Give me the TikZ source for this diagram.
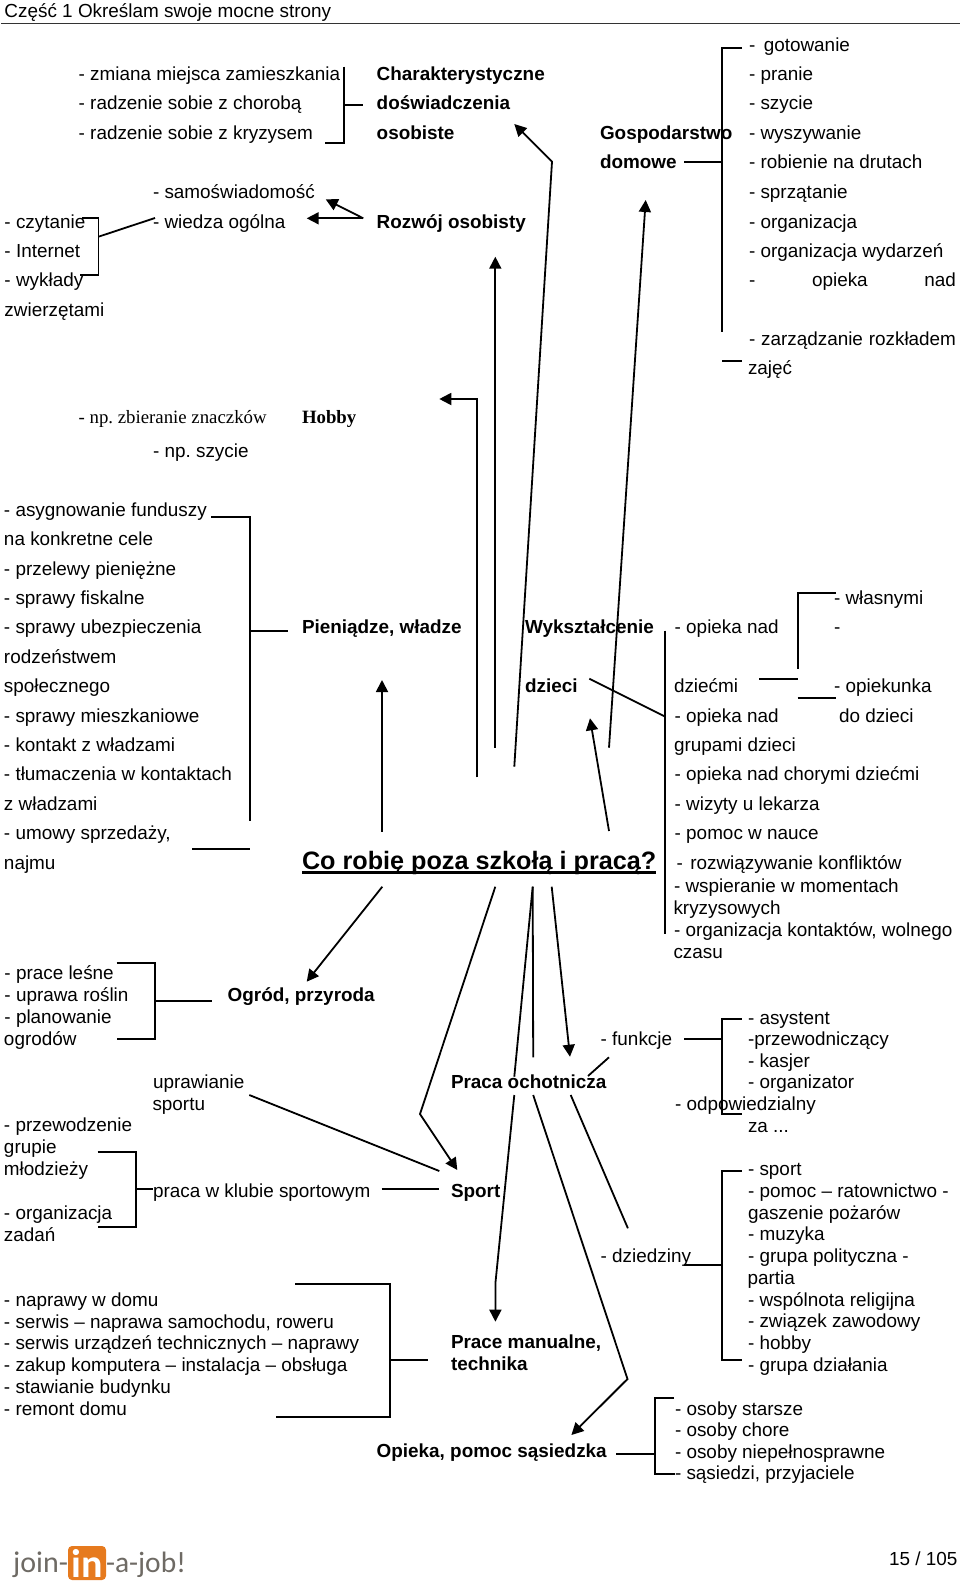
\documentclass[tikz,border=0pt]{standalone}
\usepackage{fontspec}
\setmainfont{Liberation Sans}
\newfontfamily\serifpart{Liberation Serif}
\newfontfamily\logofont{Carlito}
\usepackage{xcolor}
\definecolor{logoorange}{HTML}{E67A1E}
\definecolor{logogray}{HTML}{6E6A64}
\definecolor{rulegray}{HTML}{333333}
\usetikzlibrary{arrows.meta}
\frenchspacing
\tikzset{
    txt/.style={anchor=base west, inner sep=0pt, outer sep=0pt, font=\fontsize{18.9}{22}\selectfont},
    head/.style={txt, font=\fontsize{18.9}{22}\selectfont\bfseries},
    serif/.style={txt, font=\fontsize{18.8}{22}\selectfont\serifpart},
    conn/.style={line width=1.8pt, black},
    arr/.style={conn, -{Triangle[length=12pt,width=12pt]}},
}

\begin{document}
\begin{tikzpicture}[x=1pt, y=-1pt]
        \useasboundingbox (0,0) rectangle (960,1592);
        \node[txt] (title) at (4.5,18) {Część 1 Określam swoje mocne strony};
        \coordinate (ruleL) at (1,24);
        \coordinate (ruleR) at (960,24);
        \draw[line width=1pt, rulegray] (ruleL) -- (ruleR);

        % top left
        \node[txt] (zmiana) at (78.7,80.7) {- zmiana miejsca zamieszkania};
        \node[txt] (choroba) at (78.7,110) {- radzenie sobie z chorobą};
        \node[txt] (kryzys) at (78.7,139.7) {- radzenie sobie z kryzysem};
        \node[head] (charA) at (376.7,80.7) {Charakterystyczne};
        \node[head] (charB) at (376.7,110) {doświadczenia};
        \node[head] (charC) at (376.7,139.7) {osobiste};
        \node[txt] (samo) at (153,198.5) {- samoświadomość};
        \node[txt] (wiedza) at (153,228) {- wiedza ogólna};
        \node[head] (rozwoj) at (376.7,228) {Rozwój osobisty};
        \node[txt] (czytanie) at (4.5,228) {- czytanie};
        \node[txt] (internet) at (4.5,257.4) {- Internet};
        \node[txt] (wyklady) at (4.5,286.7) {- wykłady};
        \node[txt] (zwierz) at (4.5,316) {zwierzętami};
        \node[serif] (znaczki) at (78.7,423.3) {- np. zbieranie znaczków};
        \node[serif, font=\fontsize{18.8}{22}\selectfont\serifpart\bfseries] (hobby) at (302,423.3) {Hobby};
        \node[txt] (npszycie) at (153,457.3) {- np. szycie};

        % household
        \node[head] (gospA) at (600,139.7) {Gospodarstwo};
        \node[head] (gospB) at (600,168.8) {domowe};
        \node[txt] (gotow) at (749,51.7) {-\hspace{0.45em}gotowanie};
        \node[txt] (pranie) at (749,80.7) {- pranie};
        \node[txt] (szycie) at (749,110) {- szycie};
        \node[txt] (wyszyw) at (749,139.7) {- wyszywanie};
        \node[txt] (druty) at (749,168.8) {- robienie na drutach};
        \node[txt] (sprzat) at (749,198.3) {- sprzątanie};
        \node[txt] (orgA) at (749,228) {- organizacja};
        \node[txt] (orgB) at (749,257.4) {- organizacja wydarzeń};
        \node[txt] (opiekaZw) at (749,286.7) {\makebox[207pt][s]{- opieka nad}};
        \node[txt] (zarzad) at (749,345) {\makebox[207pt][s]{- zarządzanie rozkładem}};
        \node[txt] (zajec) at (748,374.5) {zajęć};

        % money
        \node[txt] (fundA) at (4,516) {- asygnowanie funduszy};
        \node[txt] (fundB) at (4,545.3) {na konkretne cele};
        \node[txt] (przelew) at (4,575) {- przelewy pieniężne};
        \node[txt] (fiskal) at (4,604) {- sprawy fiskalne};
        \node[txt] (ubezp) at (4,633.3) {- sprawy ubezpieczenia};
        \node[txt] (rodz) at (4,663) {rodzeństwem};
        \node[txt] (spolecz) at (4,692.3) {społecznego};
        \node[txt] (mieszk) at (4,722) {- sprawy mieszkaniowe};
        \node[txt] (kontakt) at (4,751) {- kontakt z władzami};
        \node[txt] (tlumA) at (4,780.7) {- tłumaczenia w kontaktach};
        \node[txt] (tlumB) at (4,810) {z władzami};
        \node[txt] (umowyA) at (4,839.7) {- umowy sprzedaży,};
        \node[txt] (umowyB) at (4,869) {najmu};
        \node[head] (pieniadze) at (302,633.3) {Pieniądze, władze};

        % centre
        \node[txt, font=\fontsize{25.2}{30}\selectfont\bfseries] (center) at (302,869)
            {\rlap{\rule[-4.8pt]{353.7pt}{2.4pt}}Co robię poza szkołą i pracą?};

        % education
        \node[head] (wyksztA) at (525,633.3) {Wykształcenie};
        \node[head] (wyksztB) at (525,692.3) {dzieci};
        \node[txt] (opiekaA) at (674.7,633.3) {- opieka nad};
        \node[txt] (opiekaB) at (674,692.3) {dziećmi};
        \node[txt] (grupaA) at (674.7,722) {- opieka nad};
        \node[txt] (grupaB) at (674,751) {grupami dzieci};
        \node[txt] (chorzy) at (674.7,780.7) {- opieka nad chorymi dziećmi};
        \node[txt] (lekarz) at (674.7,810) {- wizyty u lekarza};
        \node[txt] (nauka) at (674.7,839.7) {- pomoc w nauce};
        \node[txt] (konflikt) at (676.5,869) {-\hspace{0.4em}rozwiązywanie konfliktów};
        \node[txt] (wspierA) at (674,892.3) {- wspieranie w momentach};
        \node[txt] (wspierB) at (673.5,914) {kryzysowych};
        \node[txt] (kontaktA) at (674,936) {- organizacja kontaktów, wolnego};
        \node[txt] (kontaktB) at (673.5,958) {czasu};
        \node[txt] (wlasne) at (834,604.3) {- własnymi};
        \node[txt] (rodzM) at (834,633.3) {-};
        \node[txt] (opiekunA) at (834,692.3) {- opiekunka};
        \node[txt] (opiekunB) at (839,722) {do dzieci};

        % garden, sport
        \node[txt] (lesne) at (4.5,979.3) {- prace leśne};
        \node[txt] (rosliny) at (4.5,1001.3) {- uprawa roślin};
        \node[txt] (planA) at (4.5,1023.3) {- planowanie};
        \node[txt] (planB) at (4,1045) {ogrodów};
        \node[head] (ogrod) at (227.7,1001.3) {Ogród, przyroda};
        \node[txt] (uprawA) at (153,1088) {uprawianie};
        \node[txt] (uprawB) at (152.5,1110) {sportu};
        \node[txt] (przewA) at (4,1131.7) {- przewodzenie};
        \node[txt] (przewB) at (4,1153.3) {grupie};
        \node[txt] (przewC) at (4,1175.3) {młodzieży};
        \node[txt] (zadA) at (4,1219) {- organizacja};
        \node[txt] (zadB) at (4,1241) {zadań};
        \node[txt] (klub) at (153,1197) {praca w klubie sportowym};
        \node[head] (sport) at (451,1197) {Sport};

        % manual work
        \node[txt] (napr) at (4,1306) {- naprawy w domu};
        \node[txt] (serwA) at (4,1328) {- serwis – naprawa samochodu, roweru};
        \node[txt] (serwB) at (4,1349.3) {- serwis urządzeń technicznych – naprawy};
        \node[txt] (komp) at (4,1371.3) {- zakup komputera – instalacja – obsługa};
        \node[txt] (budyn) at (4,1393.3) {- stawianie budynku};
        \node[txt] (remont) at (4,1415) {- remont domu};
        \node[head] (manualA) at (451,1348.3) {Prace manualne,};
        \node[head] (manualB) at (451,1370.3) {technika};

        % voluntary work
        \node[head] (ochotn) at (451,1088) {Praca ochotnicza};
        \node[txt] (funkcje) at (600.7,1045) {- funkcje};
        \node[txt] (asyst) at (748,1024) {- asystent};
        \node[txt] (przewodn) at (748,1045.7) {-przewodniczący};
        \node[txt] (kasjer) at (748,1067) {- kasjer};
        \node[txt] (organiz) at (748,1088.7) {- organizator};
        \node[txt] (odpow) at (675,1110.3) {- odpowiedzialny};
        \node[txt] (zaDots) at (748,1132.3) {za ...};
        \node[txt] (dziedz) at (600.7,1262.3) {- dziedziny};
        \node[txt] (dSport) at (748,1175.7) {- sport};
        \node[txt] (dPomoc) at (748,1197.3) {- pomoc – ratownictwo -};
        \node[txt] (dGasz) at (748,1219) {gaszenie pożarów};
        \node[txt] (dMuz) at (748,1240.7) {- muzyka};
        \node[txt] (dPol) at (748,1262.7) {- grupa polityczna -};
        \node[txt] (dPart) at (747.5,1284.3) {partia};
        \node[txt] (dRel) at (748,1306) {- wspólnota religijna};
        \node[txt] (dZwiaz) at (748,1327.7) {- związek zawodowy};
        \node[txt] (dHobby) at (748,1349.3) {- hobby};
        \node[txt] (dGrupa) at (748,1371) {- grupa działania};

        % neighbours
        \node[head] (sasiedzka) at (376.7,1457.7) {Opieka, pomoc sąsiedzka};
        \node[txt] (starsi) at (675,1415) {- osoby starsze};
        \node[txt] (chorzyB) at (675,1436.7) {- osoby chore};
        \node[txt] (niepeln) at (675,1458.3) {- osoby niepełnosprawne};
        \node[txt] (przyjac) at (675,1479.3) {- sąsiedzi, przyjaciele};

        % footer
        \node[txt] (page) at (889,1565) {15 / 105};
        \node[fill=logoorange, rounded corners=4pt, minimum width=38pt, minimum height=34pt, inner sep=0pt] (logoBox) at (87,1563) {};
        \node[txt, font=\fontsize{30}{30}\selectfont\logofont, text=logogray, anchor=base east] (logoA) at (68,1572.7) {join-};
        \node[txt, font=\fontsize{40}{40}\selectfont\logofont\bfseries, text=white, anchor=base] (logoB) at (87,1577.5) {in};
        \node[txt, font=\fontsize{29.5}{30}\selectfont\logofont, text=logogray] (logoC) at (106,1572.7) {-a-job!};

        % connector ends
        \foreach \n/\x/\y in {
            brCharT/325/142.7, brCharTop/344/66.7, brCharB/344/142.7, stubChar/363.3/104.7,
            rozTail/363.3/218.3, rozTipA/306.7/218.3, rozTipB/325.7/199.3,
            brCzytT/81.7/218, brCzytC/98.5/275, brCzytB/80/275, czytJoin/98.5/236.7, czytEnd/155/218,
            gospTop/742/48, gospBot/722/332.3, gospStub/684/161.7, zajL/722/361, zajR/742/361,
            brPieT/211.3/517.3, brPieB/249.7/820.7, pieStub/287.7/630.7, umowL/192.3/849.3, umowR/250/849.3,
            opTop/836/592.7, opBot/797.7/669, dzL/759.3/678.7, dzR/798.3/678.7, opkL/797.7/697.7, opkR/836/697.7,
            edTop/665.3/630.7, edBot/665.3/934, edL/589.3/678.7, edR/665.3/716.7,
            ogrT/116.7/962.7, ogrC/155.3/1038.7, ogrB/116.7/1038.7, ogrStub/212.3/1000.7,
            klubT/97.7/1151.7, klubC/136.3/1227.3, klubB/97.7/1227.3, klubStub/153/1189.3,
            klubL/381.7/1189.3, klubR/439.3/1189.3, uprL/249.3/1095, uprR/439.3/1171,
            manT/295.3/1284.3, manC/390/1416.7, manB/276/1416.7, manStub/428.3/1360.3,
            fT/741.8/1019.3, fC/722/1114.3, fB/741.8/1114.3, fStub/684/1038.7,
            dT/741.8/1171, dC/722/1360, dB/741.8/1360, dStub/684/1265.3,
            sT/674/1398, sC/654.6/1473.7, sB/674.5/1473.7, sStub/616.4/1454.3,
            hobT/476.7/777.3, hobC/476.7/399, hobTip/439.3/399,
            chTail/514.3/766.7, chC/552/161.7, chTip/514.3/124,
            rzTail/495.3/747.7, rzTip/495.3/256.7, goTail/609/747.7, goTip/645.7/200,
            pnTail/382/831.7, pnTip/382/680, wyTail/609/831, wyTip/590/718.3,
            oTail/382.3/886.7, oTip/306.7/981.7,
            spTail/495.3/886.7, spC/420/1114, spTip/457.3/1170,
            mnTail/532.7/886.7, mnEnd/514.3/1076.7, mnStart/514.3/1095, mnC/495.4/1283.3, mnTip/495.4/1321.7,
            vTail/532.7/886.7, vEnd/533.2/1057.3,
            ocTail/551.7/886.7, ocTip/570/1056.7,
            fnA/609/1057.3, fnB/588/1076,
            dzA/570.7/1095, dzB/627.9/1228.3,
            saA/533.2/1095, saC/627.5/1379, saTip/571.4/1435}
            \coordinate (\n) at (\x,\y);

        % brackets
        \draw[conn] (brCharTop) -- (brCharB) -- (brCharT);
        \draw[conn] (stubChar -| brCharB) -- (stubChar);
        \draw[conn] (brCzytT) -| (brCzytC) -- (brCzytB);
        \draw[conn] (czytJoin) -- (czytEnd);
        \draw[conn] (gospTop) -| (gospBot);
        \draw[conn] (gospStub -| gospBot) -- (gospStub);
        \draw[conn] (zajL) -- (zajR);
        \draw[conn] (brPieT) -| (brPieB);
        \draw[conn] (pieStub -| brPieB) -- (pieStub);
        \draw[conn] (umowL) -- (umowR);
        \draw[conn] (opTop) -| (opBot);
        \draw[conn] (dzL) -- (dzR);
        \draw[conn] (opkL) -- (opkR);
        \draw[conn] (edTop) -- (edBot);
        \draw[conn] (edL) -- (edR);
        \draw[conn] (ogrT) -| (ogrC) -- (ogrB);
        \draw[conn] (ogrStub -| ogrC) -- (ogrStub);
        \draw[conn] (klubT) -| (klubC) -- (klubB);
        \draw[conn] (klubStub -| klubC) -- (klubStub);
        \draw[conn] (klubL) -- (klubR);
        \draw[conn] (uprL) -- (uprR);
        \draw[conn] (manT) -| (manC) -- (manB);
        \draw[conn] (manStub -| manC) -- (manStub);
        \draw[conn] (fT) -| (fC) -- (fB);
        \draw[conn] (fStub -| fC) -- (fStub);
        \draw[conn] (dT) -| (dC) -- (dB);
        \draw[conn] (dStub -| dC) -- (dStub);
        \draw[conn] (sT) -| (sC) -- (sB);
        \draw[conn] (sStub -| sC) -- (sStub);

        % arrows
        \draw[arr] (rozTail) -- (rozTipA);
        \draw[arr] (rozTail) -- (rozTipB);
        \draw[arr] (hobT) -- (hobC) -- (hobTip);
        \draw[arr] (chTail) -- (chC) -- (chTip);
        \draw[arr] (rzTail) -- (rzTip);
        \draw[arr] (goTail) -- (goTip);
        \draw[arr] (pnTail) -- (pnTip);
        \draw[arr] (wyTail) -- (wyTip);
        \draw[arr] (oTail) -- (oTip);
        \draw[arr] (spTail) -- (spC) -- (spTip);
        \draw[conn] (mnTail) -- (mnEnd);
        \draw[arr] (mnStart) -- (mnC) -- (mnTip);
        \draw[conn] (vTail) -- (vEnd);
        \draw[arr] (ocTail) -- (ocTip);
        \draw[conn] (fnA) -- (fnB);
        \draw[conn] (dzA) -- (dzB);
        \draw[arr] (saA) -- (saC) -- (saTip);
    \end{tikzpicture}
\end{document}
